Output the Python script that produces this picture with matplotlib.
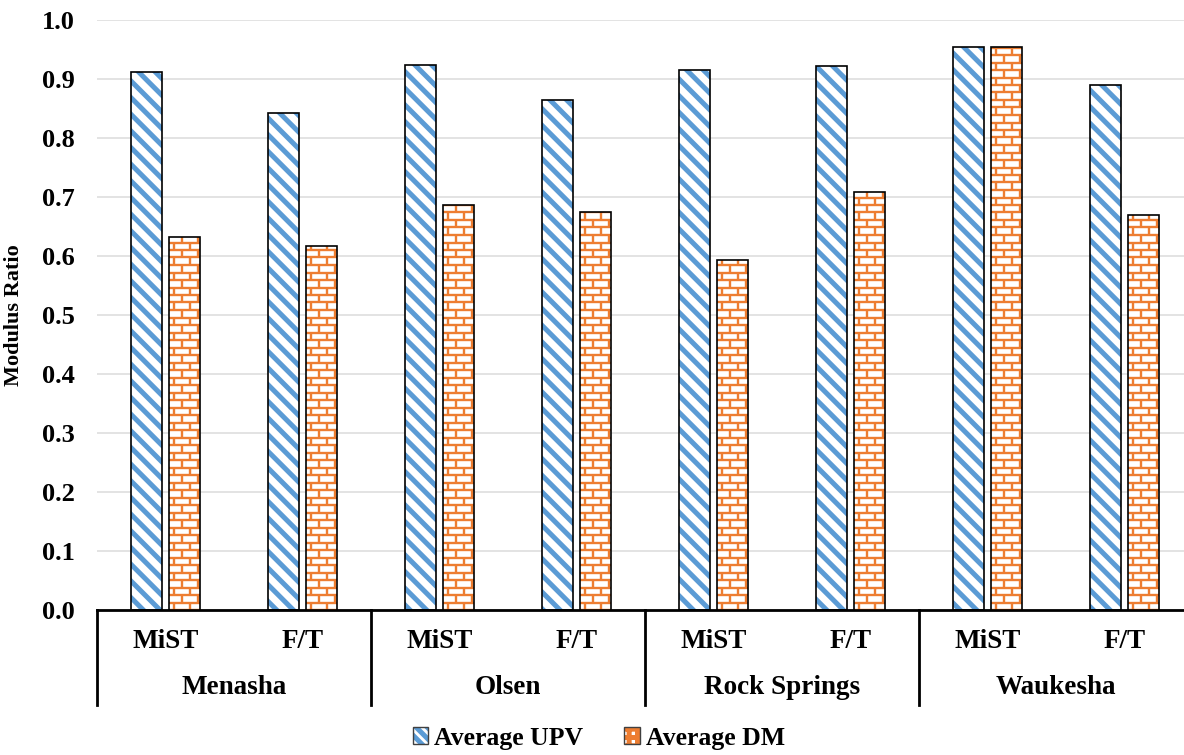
import numpy as np
import matplotlib
matplotlib.use("Agg")
import matplotlib.pyplot as plt
from matplotlib.collections import LineCollection
from matplotlib.patches import Patch
from matplotlib.legend_handler import HandlerTuple
import matplotlib.transforms as mtransforms

plt.rcParams['font.family'] = ['Liberation Serif', 'DejaVu Serif']
plt.rcParams['font.weight'] = 'bold'
plt.rcParams['hatch.linewidth'] = 3.6

# data
soils = ['Menasha', 'Olsen', 'Rock Springs', 'Waukesha']
tests = ['MiST', 'F/T']
upv = [0.912, 0.842, 0.924, 0.865, 0.915, 0.922, 0.954, 0.889]
dm = [0.632, 0.617, 0.686, 0.674, 0.594, 0.708, 0.954, 0.669]

BLUE = '#5B9BD5'
ORANGE = '#ED7D31'

fig = plt.figure(figsize=(11.84, 7.55), dpi=100)
ax = fig.add_axes([97 / 1184, 145 / 755, (1193 - 97) / 1184, 590 / 755])

n = len(upv)
x = np.arange(n) + 0.5
w = 0.226
off = 0.141

# blue diagonal stripes
ax.bar(x - off, upv, w, facecolor='white', edgecolor=BLUE, hatch='\\\\', linewidth=0, zorder=2)
ax.bar(x - off, upv, w, fill=False, edgecolor='black', linewidth=1.2, zorder=4)

# orange bricks
dm_bars = ax.bar(x + off, dm, w, facecolor='white', edgecolor='none', linewidth=0, zorder=2)
row_h = 7.5 / 590
brick_w = 16 / 137
for rect in dm_bars:
    x0, w0, h0 = rect.get_x(), rect.get_width(), rect.get_height()
    segs = []
    nrows = int(np.ceil(h0 / row_h))
    for k in range(nrows + 1):
        y = k * row_h
        segs.append([(x0, y), (x0 + w0, y)])
        xx = x0 + (brick_w / 2 if k % 2 else 0) + 0.035
        while xx < x0 + w0:
            segs.append([(xx, y), (xx, y + row_h)])
            xx += brick_w
    lc = LineCollection(segs, colors=ORANGE, linewidths=1.7, zorder=3)
    ax.add_collection(lc)
    lc.set_clip_path(rect)
ax.bar(x + off, dm, w, fill=False, edgecolor='black', linewidth=1.2, zorder=4)

ax.set_xlim(0, n)
ax.set_ylim(0, 1.0)
ticks = np.arange(0, 1.01, 0.1)
ax.set_yticks(ticks)
ax.set_yticklabels([f'{v:.1f}' for v in ticks], fontsize=19, fontweight='bold')
ax.tick_params(axis='y', length=0, pad=16)
ax.set_xticks([])
ax.yaxis.grid(True, color='#e0e0e0', linewidth=1.3)
ax.set_axisbelow(True)
for s in ['top', 'right', 'left']:
    ax.spines[s].set_visible(False)
ax.spines['bottom'].set_linewidth(2)
fig.text(14 / 1184, (755 - 315) / 755, 'Modulus Ratio', rotation=90, ha='center', va='center',
         fontsize=16, fontweight='bold')

# multi-level category axis
trans = mtransforms.blended_transform_factory(ax.transData, ax.transAxes)
for i in range(n):
    ax.text(x[i], -32 / 590, tests[i % 2], transform=trans, ha='center', va='center',
            fontsize=19.5, fontweight='bold')
for g, name in enumerate(soils):
    ax.text(2 * g + 1, -78 / 590, name, transform=trans, ha='center', va='center',
            fontsize=19.5, fontweight='bold')
for b in range(0, n + 1, 2):
    ax.plot([b, b], [0, -95 / 590], transform=trans, color='black', linewidth=2, clip_on=False)

outline = Patch(fill=False, edgecolor='#404040', linewidth=1)
h_upv = (Patch(facecolor='white', edgecolor=BLUE, hatch='\\\\\\', linewidth=0), outline)
h_dm = (Patch(facecolor='white', edgecolor=ORANGE, hatch='++', linewidth=0), outline)
fig.legend([h_upv, h_dm], ['Average UPV', 'Average DM'], loc='center',
           bbox_to_anchor=(599 / 1184, 17 / 755), ncol=2, frameon=False,
           prop={'size': 18.5, 'weight': 'bold'}, handlelength=0.6, handleheight=0.6,
           handletextpad=0.25, columnspacing=1.6,
           handler_map={tuple: HandlerTuple(ndivide=1, pad=0)})

fig.savefig('out.png', dpi=100)
